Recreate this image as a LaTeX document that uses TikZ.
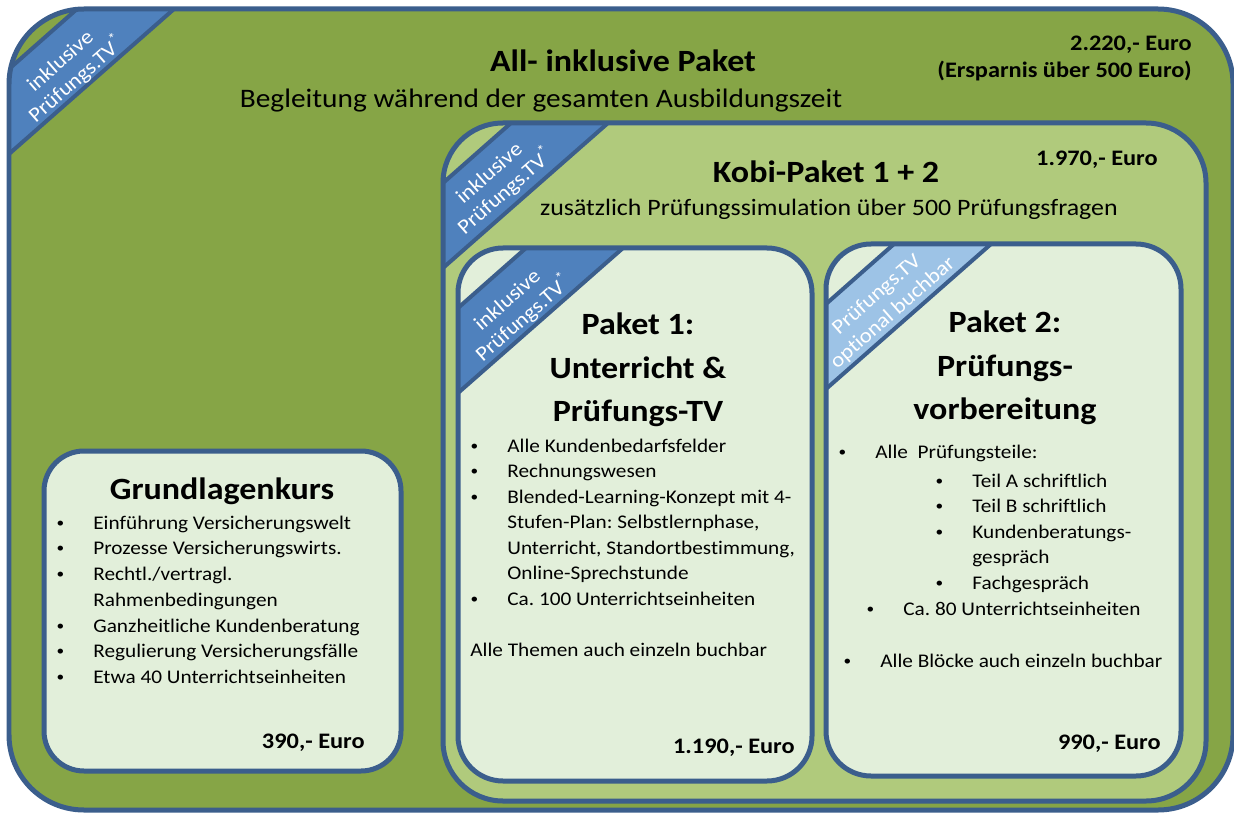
\documentclass[tikz,border=0pt]{standalone}
\usepackage{fontspec}
\setmainfont{Carlito}[FakeStretch=1.1,Ligatures=NoCommon]
\usetikzlibrary{positioning}
\frenchspacing

\definecolor{allgreen}{RGB}{134,165,70}
\definecolor{kobigreen}{RGB}{176,202,124}
\definecolor{boxgreen}{RGB}{226,239,218}
\definecolor{rimblue}{RGB}{59,94,140}
\definecolor{tvblue}{RGB}{79,129,189}
\definecolor{tvlight}{RGB}{157,195,230}

\begin{document}
\begin{tikzpicture}[x=0.02cm,y=-0.02cm,
  rim/.style={draw=rimblue,line width=0.1cm},
  band/.style={draw=rimblue,line width=0.08cm,line join=round},
  tvtext/.style={text=white,rotate=41.3,align=center,inner sep=0,
    font=\fontsize{11.8}{13.8}\selectfont},
  body/.style={anchor=base west,inner sep=0,font=\fontsize{11}{13.4}\selectfont},
  item/.style={body,execute at begin node={\llap{\makebox[0pt]{\raisebox{0.9pt}{\scalebox{0.72}{•}}}\hskip18.8pt}}},
  price/.style={anchor=base east,inner sep=0,font=\bfseries\fontsize{12.6}{15}\selectfont},
  headline/.style={anchor=base,inner sep=0,font=\bfseries\fontsize{17.6}{21}\selectfont}]
\useasboundingbox (0,0) rectangle (1234,814);
\clip (0,0) rectangle (1234,814);

\fill[allgreen,rounded corners=1.5cm] (9,9) rectangle (1233,810);
\begin{scope}
\clip[rounded corners=1.5cm] (9,9) rectangle (1233,810);
\begin{scope}[shift={(9,9)}]
\filldraw[band,fill=tvblue] (-34,90) -- (102,-30) -- (206,-36) -- (-41,181) -- cycle;
\node[tvtext] (tvall) at (60,62) {inklusive\\Prüfungs.TV\textsuperscript{*}};
\end{scope}
\end{scope}
\draw[rim,rounded corners=1.5cm] (9,9) rectangle (1233,810);

\filldraw[rim,fill=boxgreen,rounded corners=0.8cm] (44,451) rectangle (401,771);

\fill[kobigreen,rounded corners=1.2cm] (443,123) rectangle (1206,801);
\begin{scope}
\clip[rounded corners=1.2cm] (443,123) rectangle (1206,801);
\begin{scope}[shift={(443,123)}]
\filldraw[band,fill=tvblue] (-34,90) -- (102,-30) -- (206,-36) -- (-41,181) -- cycle;
\node[tvtext] (tvkobi) at (55,60) {inklusive\\Prüfungs.TV\textsuperscript{*}};
\end{scope}
\end{scope}
\draw[rim,rounded corners=1.2cm] (443,123) rectangle (1206,801);

\fill[boxgreen,rounded corners=0.9cm] (458,248) rectangle (812,781);
\begin{scope}
\clip[rounded corners=0.9cm] (458,248) rectangle (812,781);
\begin{scope}[shift={(458,248)}]
\filldraw[band,fill=tvblue] (-34,90) -- (102,-30) -- (206,-36) -- (-41,181) -- cycle;
\node[tvtext] (tvone) at (58,62) {inklusive\\Prüfungs.TV\textsuperscript{*}};
\end{scope}
\end{scope}
\draw[rim,rounded corners=0.9cm] (458,248) rectangle (812,781);

\fill[boxgreen,rounded corners=0.9cm] (826,244) rectangle (1181,776);
\begin{scope}
\clip[rounded corners=0.9cm] (826,244) rectangle (1181,776);
\begin{scope}[shift={(826,244)}]
\filldraw[band,fill=tvlight] (-34,90) -- (102,-30) -- (206,-36) -- (-41,181) -- cycle;
\node[tvtext] (tvtwo) at (59,60) {Prüfungs.TV\\optional buchbar};
\end{scope}
\end{scope}
\draw[rim,rounded corners=0.9cm] (826,244) rectangle (1181,776);

\node[headline] (allin) at (623,72) {All- inklusive Paket};
\node[anchor=base,inner sep=0,font=\fontsize{15.2}{18}\selectfont] (allsub) at (541,108) {Begleitung während der gesamten Ausbildungszeit};
\node[price] (allprice) at (1192,51) {2.220,- Euro};
\node[price] (allsave) at (1192,78) {(Ersparnis über 500 Euro)};

\node[headline] (kobi) at (826,183) {Kobi-Paket 1 + 2};
\node[anchor=base,inner sep=0,font=\fontsize{13.4}{16}\selectfont] (kobisub) at (829,216) {zusätzlich Prüfungssimulation über 500 Prüfungsfragen};
\node[price] (kobiprice) at (1158,166) {1.970,- Euro};

\node[headline] (grund) at (222,499) {Grundlagenkurs};
\node[item] (g1) at (93,529) {Einführung Versicherungswelt};
\node[item] (g2) at (93,554) {Prozesse Versicherungswirts.};
\node[item] (g3) at (93,580) {Rechtl./vertragl.};
\node[body] (g4) at (93,606) {Rahmenbedingungen};
\node[item] (g5) at (93,632) {Ganzheitliche Kundenberatung};
\node[item] (g6) at (93,657) {Regulierung Versicherungsfälle};
\node[item] (g7) at (93,683) {Etwa 40 Unterrichtseinheiten};
\node[price] (grundprice) at (365,748) {390,- Euro};

\node[headline] (p1a) at (638,335) {Paket 1:};
\node[headline] (p1b) at (638,378) {Unterricht \&};
\node[headline] (p1c) at (638,421) {Prüfungs-TV};
\node[item] (u1) at (507,452) {Alle Kundenbedarfsfelder};
\node[item] (u2) at (507,477) {Rechnungswesen};
\node[item] (u3) at (507,503) {Blended-Learning-Konzept mit 4-};
\node[body] (u4) at (507,528) {Stufen-Plan: Selbstlernphase,};
\node[body] (u5) at (507,554) {Unterricht, Standortbestimmung,};
\node[body] (u6) at (507,579) {Online-Sprechstunde};
\node[item] (u7) at (507,605) {Ca. 100 Unterrichtseinheiten};
\node[body] (u8) at (470,656) {Alle Themen auch einzeln buchbar};
\node[price] (p1price) at (795,753) {1.190,- Euro};

\node[headline] (p2a) at (1005,333) {Paket 2:};
\node[headline] (p2b) at (1005,376) {Prüfungs-};
\node[headline] (p2c) at (1005,419) {vorbereitung};
\node[item] (v1) at (875,458) {Alle\ \ Prüfungsteile:};
\node[item] (v2) at (972,487) {Teil A schriftlich};
\node[item] (v3) at (972,512) {Teil B schriftlich};
\node[item] (v4) at (972,538) {Kundenberatungs-};
\node[body] (v5) at (972,563) {gespräch};
\node[item] (v6) at (972,589) {Fachgespräch};
\node[item] (v7) at (903,615) {Ca. 80 Unterrichtseinheiten};
\node[item] (v8) at (880,667) {Alle Blöcke auch einzeln buchbar};
\node[price] (p2price) at (1161,749) {990,- Euro};
\end{tikzpicture}
\end{document}
